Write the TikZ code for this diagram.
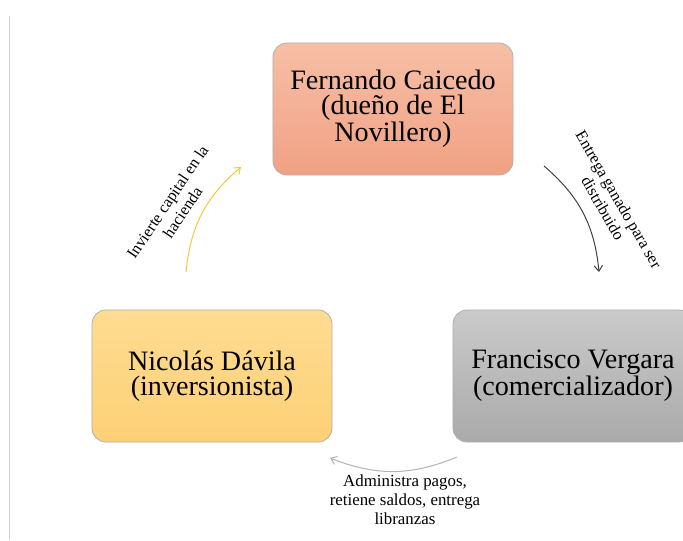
\documentclass[tikz,border=0pt]{standalone}
\usepackage{fontspec}
\setmainfont{Liberation Serif}
\usepackage{xcolor}
\usetikzlibrary{arrows.meta}

\definecolor{ownertop}{HTML}{F6BFA6}
\definecolor{ownerbot}{HTML}{F1A184}
\definecolor{invtop}{HTML}{FEDC92}
\definecolor{invbot}{HTML}{FDD076}
\definecolor{selltop}{HTML}{CACACA}
\definecolor{sellbot}{HTML}{AAAAAA}
\definecolor{goldline}{HTML}{F8C53E}

\begin{document}
\begin{tikzpicture}[
  x=0.025cm, y=-0.025cm,
  rolebox/.style={draw=black!30, line width=0.6pt, rounded corners=10pt, align=center,
    minimum width=6cm, minimum height=3.3cm, font=\fontsize{20}{18}\selectfont},
  flow/.style={-{Straight Barb[length=4pt, width=6pt]}, line width=0.7pt, bend left=22},
  tag/.style={align=center, font=\fontsize{11.5}{13}\selectfont},
  frameline/.style={black!18, line width=0.8pt}
]

% Page frame
\clip (0,0) rectangle (683,540);
\fill[white] (0,0) rectangle (683,540);
\coordinate (edgetop) at (9.5,16);
\coordinate (edgebot) at (9.5,540);
\draw[frameline] (edgetop) -- (edgebot);

% Role boxes
\node[rolebox, top color=ownertop, bottom color=ownerbot] (owner) at (393,109)
{Fernando Caicedo\\(dueño de El\\Novillero)};
\node[rolebox, top color=invtop, bottom color=invbot] (investor) at (212,376)
{Nicolás Dávila\\(inversionista)};
\node[rolebox, top color=selltop, bottom color=sellbot] (seller) at (573,376)
{Francisco Vergara\\(comercializador)};

% Arrow ends
\coordinate (invout) at (186,272);
\coordinate (ownin)  at (241,167);
\coordinate (ownout) at (544,166);
\coordinate (sellin) at (599,272);
\coordinate (sellout) at (457,457);
\coordinate (invin)  at (330,458);

% Flows
\draw[flow, goldline] (invout) to (ownin);
\draw[flow, black!75] (ownout) to (sellin);
\draw[flow, black!30] (sellout) to (invin);

% Flow labels
\node[tag, rotate=56] (capital) at (175,207) {Invierte capital en la\\hacienda};
\node[tag, rotate=-60] (cattle) at (611,204) {Entrega ganado para ser\\distribuido};
\node[tag, font=\fontsize{12}{13.5}\selectfont] (payments) at (405,500)
{Administra pagos,\\retiene saldos, entrega\\libranzas};

\end{tikzpicture}
\end{document}
